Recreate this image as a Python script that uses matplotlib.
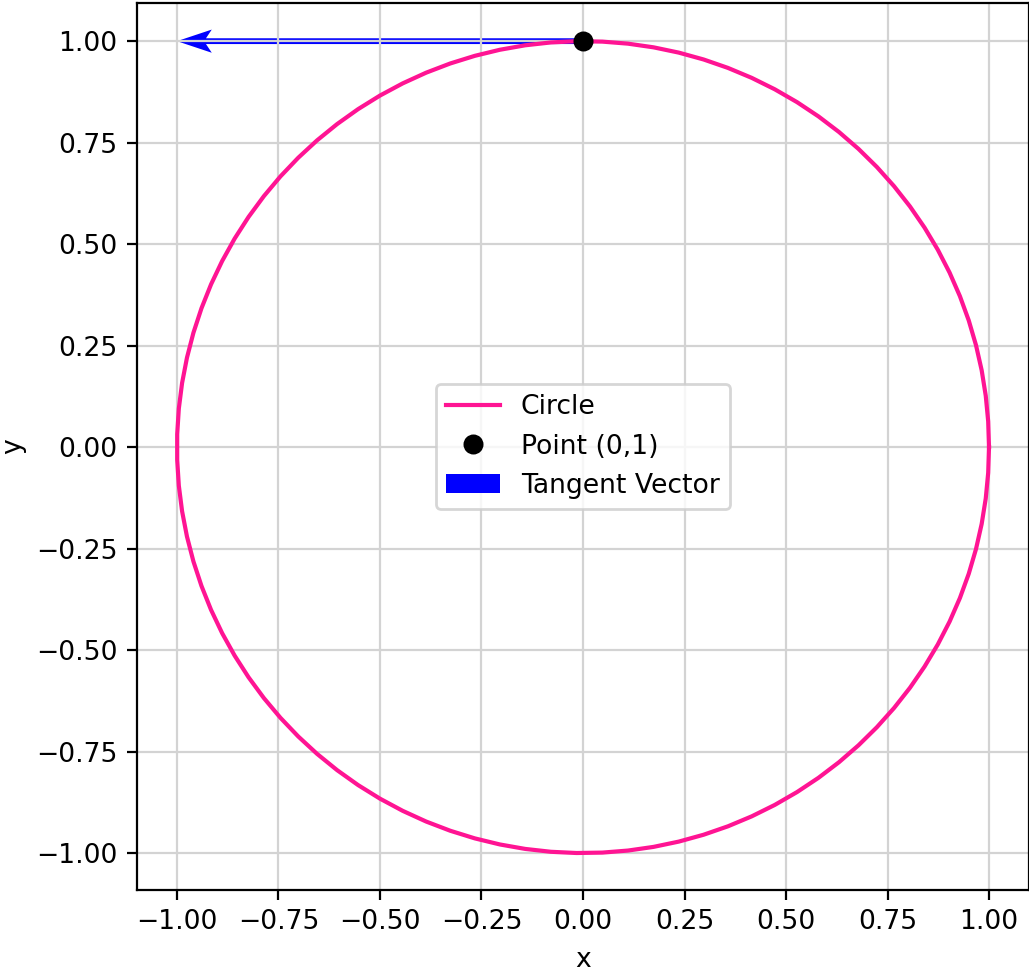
import numpy as np
import matplotlib
matplotlib.use("Agg")
import matplotlib.pyplot as plt

plt.rcParams['font.size'] = 9.6

# Data
n_points = 100
theta = np.linspace(0, 2 * np.pi, n_points)
circle_x = np.cos(theta)
circle_y = np.sin(theta)
point_x = [0]
point_y = [1]
vec_u = [-1]
vec_v = [0]

fig = plt.figure(figsize=(1029 / 200, 972 / 200), dpi=200)
ax = fig.add_axes([137 / 1029, 1 - 890 / 972, 1 - 137 / 1029, (890 - 3) / 972])

ax.plot(circle_x, circle_y, color='deeppink', label='Circle')
ax.plot(point_x, point_y, 'o', color='black', markersize=6.2, label='Point (0,1)')
ax.quiver(point_x, point_y, vec_u, vec_v, angles='xy', scale_units='xy', scale=1,
          color='blue', width=0.0065, headwidth=4, headlength=6, headaxislength=5,
          label='Tangent Vector')

ax.set_xlim(-1.0985, 1.0985)
ax.set_ylim(-1.091, 1.094)
ax.set_aspect('equal', adjustable='datalim')
ax.set_xticks(np.arange(-1, 1.01, 0.25))
ax.set_yticks(np.arange(-1, 1.01, 0.25))
ax.set_xlabel('x', labelpad=4)
ax.set_ylabel('y', labelpad=3.5)
ax.grid(True, color='#d3d3d3')
ax.legend(loc='center')

fig.savefig('out.png', dpi=200)
